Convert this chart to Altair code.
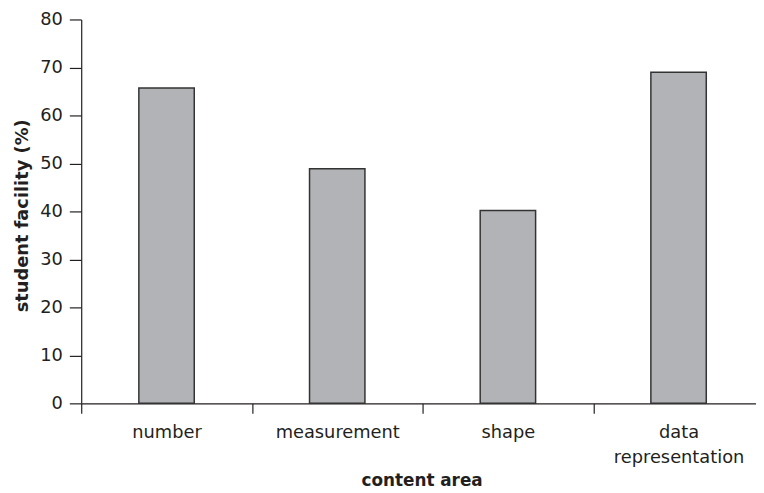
import altair as alt
import pandas as pd

categories = ["number", "measurement", "shape", "data representation"]
facility = [65.7, 48.9, 40.2, 69.0]
y_ticks = [0, 10, 20, 30, 40, 50, 60, 70, 80]

df = pd.DataFrame({
    "area": categories,
    "pos": [i + 0.5 for i in range(len(categories))],
    "facility": facility,
})

plot_w = 682
step_px = 172.5
ink = "#231f20"
font = "DejaVu Sans"

label_expr = (
    "datum.value == 0 ? 'number' : datum.value == 1 ? 'measurement' : "
    "datum.value == 2 ? 'shape' : ['data', 'representation']"
)

bars = alt.Chart(df).mark_bar(
    size=56, fill="#b1b3b6", stroke="#333333", strokeWidth=1.5
).encode(
    x=alt.X(
        "pos:Q",
        scale=alt.Scale(domain=[0, plot_w / step_px], nice=False, zero=False, padding=0),
        axis=alt.Axis(
            title="content area",
            values=list(range(len(categories))),
            labelAngle=0,
            labelOffset=step_px / 2,
            tickSize=10,
            tickWidth=1.2,
            tickColor=ink,
            domainColor=ink,
            domainWidth=1.2,
            grid=False,
            labelPadding=10,
            labelFont=font,
            labelFontSize=18,
            labelColor=ink,
            labelLineHeight=26,
            labelOverlap=False,
            labelFlush=False,
            labelBound=False,
            labelExpr=label_expr,
            titleFont=font,
            titleFontSize=17,
            titleFontWeight="bold",
            titleColor=ink,
            titleX=344,
            titleY=83,
            titleBaseline="alphabetic",
            titleAlign="center",
        ),
    ),
    y=alt.Y(
        "facility:Q",
        scale=alt.Scale(domain=[0, 80], nice=False),
        axis=alt.Axis(
            values=y_ticks,
            title="student facility (%)",
            grid=False,
            tickSize=12,
            tickWidth=1.2,
            tickColor=ink,
            domainColor=ink,
            domainWidth=1.2,
            labelPadding=7,
            labelFont=font,
            labelFontSize=18,
            labelColor=ink,
            titleFont=font,
            titleFontSize=18,
            titleFontWeight="bold",
            titleColor=ink,
            titleX=-54,
            titleY=198,
            titleAngle=-90,
            titleBaseline="alphabetic",
            titleAlign="center",
        ),
    ),
).properties(
    width=plot_w,
    height=388,
    autosize=alt.AutoSizeParams(type="none"),
    padding={"left": 74, "top": 9, "right": 0, "bottom": 88},
).configure_view(stroke=None)

chart = bars
chart.save("out.html", embed_options={"renderer": "svg", "actions": False})
